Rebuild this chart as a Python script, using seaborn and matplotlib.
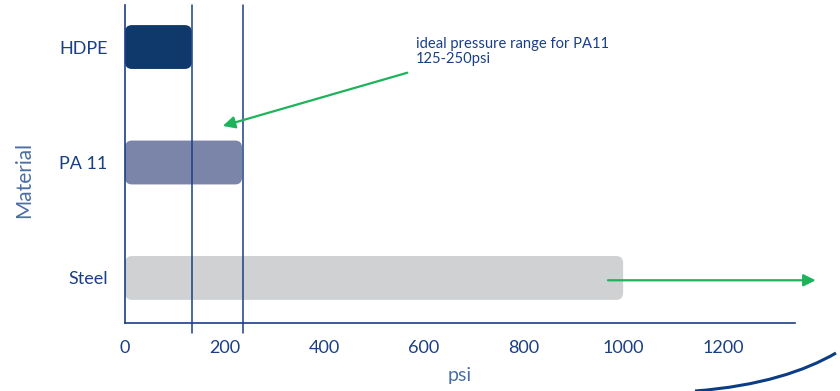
"""
Pressure rating by pipe material
"""

import pandas as pd
import matplotlib.pyplot as plt
import seaborn as sns
from matplotlib.patches import FancyBboxPatch, FancyArrowPatch
from matplotlib.path import Path
from matplotlib.patches import PathPatch

# dados
materials = ["HDPE", "PA 11", "Steel"]
max_psi = [134, 235, 1000]
bar_colors = ["#00387a", "#7480b0", "#d0d1d3"]
range_lines = [134, 237]
x_ticks = [0, 200, 400, 600, 800, 1000, 1200]
note_text = "ideal pressure range for PA11\n125-250psi"

navy = "#1a3f85"
light_blue = "#4a6ea6"
green = "#1db35a"

sns.set_theme(style="white")
plt.rcParams["font.family"] = ["Lato", "DejaVu Sans"]

df = pd.DataFrame({"Material": materials, "psi": max_psi})

fig = plt.figure(figsize=(8.4, 3.91), dpi=100)
ax = fig.add_axes([125 / 840, 1 - 323 / 391, 670 / 840, 318 / 391])

sns.barplot(data=df, x="psi", y="Material", hue="Material", palette=bar_colors,
            orient="h", width=0.38, legend=False, ax=ax)

ax.set_xlim(0, 1345)
ax.set_ylim(2.39, -0.364)

# trocar barras por retangulos arredondados
px_x = 1345 / 670
px_y = (2.39 + 0.364) / 318
for p in list(ax.patches):
    x, y = p.get_x(), p.get_y()
    w, h = p.get_width(), p.get_height()
    fc = p.get_facecolor()
    p.remove()
    ax.add_patch(FancyBboxPatch((x, y), w, h,
                                boxstyle=f"round,pad=0,rounding_size={7 * px_x}",
                                mutation_aspect=px_y / px_x,
                                facecolor=fc, edgecolor="none", zorder=2))

# linhas verticais do intervalo
for v in range_lines:
    ax.plot([v, v], [-0.032, 1], color=navy, lw=1.1,
            transform=ax.get_xaxis_transform(), clip_on=False, zorder=3)

sns.despine(ax=ax)
for s in ["left", "bottom"]:
    ax.spines[s].set_color(navy)
    ax.spines[s].set_linewidth(1.2)

ax.set_xticks(x_ticks)
ax.tick_params(axis="x", direction="out", length=6, width=1, color=navy,
               labelcolor=navy, labelsize=13, pad=6)
ax.tick_params(axis="y", length=0, labelcolor=navy, labelsize=13, pad=12.5)
ax.set_xlabel("psi", color=light_blue, fontsize=14, labelpad=8)
ax.set_ylabel("Material", color=light_blue, fontsize=15)
ax.yaxis.set_label_coords(-0.135, 0.45)

# anotacoes
ax.text(584, 0.04, note_text, color=navy, fontsize=10.6, va="center",
        linespacing=1.1)
ax.add_patch(FancyArrowPatch((572, 0.216), (191, 0.69), arrowstyle="-|>",
                             mutation_scale=18, color=green, lw=1.6,
                             clip_on=False, zorder=4))
ax.add_patch(FancyArrowPatch((964, 2.02), (1392, 2.02), arrowstyle="-|>",
                             mutation_scale=18, color=green, lw=1.6,
                             clip_on=False, zorder=4))

# curva decorativa no canto
verts = [(695 / 840, 0.0), (760 / 840, 5 / 391), (805 / 840, 20 / 391),
         (836 / 840, 38 / 391)]
curve = Path(verts, [Path.MOVETO, Path.CURVE4, Path.CURVE4, Path.CURVE4])
fig.add_artist(PathPatch(curve, transform=fig.transFigure, fill=False,
                         edgecolor="#0b3d84", lw=2.2))

fig.savefig("out.png", dpi=100)
